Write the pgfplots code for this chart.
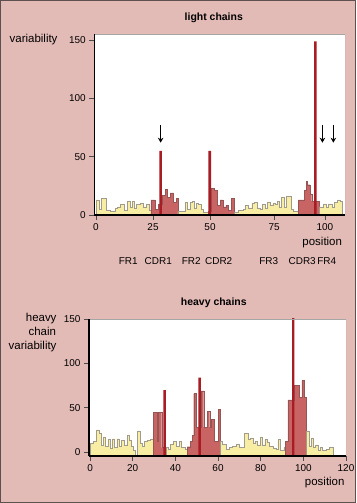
\documentclass[border=0pt]{standalone}
\usepackage{pgfplots}
\pgfplotsset{compat=1.18}
\usetikzlibrary{arrows.meta}
\usepackage{fontspec}
\setmainfont{Liberation Sans}
\definecolor{pinkbg}{RGB}{227,187,182}
\definecolor{framec}{RGB}{95,80,80}
\definecolor{yellowfill}{RGB}{247,238,164}
\definecolor{redfill}{RGB}{200,100,100}
\definecolor{barred}{RGB}{168,28,36}
\definecolor{outline}{RGB}{160,155,140}
\definecolor{redoutline}{RGB}{150,85,85}
\pgfplotsset{
  yelseg/.style={const plot, fill=yellowfill, draw=outline, line width=0.45bp},
  redseg/.style={const plot, fill=redfill, draw=redoutline, line width=0.35bp},
  barseg/.style={const plot, fill=barred, draw=none},
  arr/.style={black, line width=1.1bp, -{Stealth[length=5bp,width=5.5bp]}},
  common/.style={
    scale only axis, axis on top,
    axis x line*=bottom, axis y line*=left,
    axis line style={line width=1.3bp, black},
    tick align=outside, major tick length=5bp,
    tick style={black!70, line width=0.6bp},
    ticklabel style={font=\fontsize{10}{12}\selectfont},
    /pgf/number format/assume math mode=true,
    axis background/.style={fill=white},
    ytick={0,50,100,150},
    clip=true,
  },
}
\begin{document}
\begin{tikzpicture}[x=1bp,y=1bp]
\useasboundingbox (0,0) rectangle (356,503);
\fill[pinkbg] (0,0) rectangle (356,503);
\draw[framec, line width=1.2bp] (0.6,0.6) rectangle (355.4,502.4);

% ---------------- light chains ----------------
\node[font=\bfseries\fontsize{10.5}{12}\selectfont] at (213.8,484.7) {light chains};
\node[anchor=east, font=\fontsize{11.5}{13}\selectfont] at (61,463) {variability};
\node[anchor=east, font=\fontsize{11.5}{13}\selectfont] at (345.5,260.3) {position};
\begin{axis}[common,
  at={(94.3bp,288bp)}, anchor=south west,
  width=250.7bp, height=180.7bp,
  xmin=-0.75, xmax=109.2, ymin=0, ymax=155,
  xtick={0,25,50,78.1,100.4}, xticklabels={0,25,50,75,100},
]
\addplot[yelseg] coordinates {(0,0) (0,13) (1.3,5) (2.5,14) (4.4,4) (6.1,3) (8.3,6) (9.4,7) (10.5,9) (12.3,4) (13.5,12) (14.9,7) (15.9,12) (16.8,6) (17.8,9) (19.3,10) (20.8,7) (22.2,9) (23.2,4) (24.1,4) (24.1,0)} -- cycle;
\addplot[redseg] coordinates {(24.1,0) (24.1,13) (25.9,5) (27.3,9) (28.9,17) (30.3,22) (31.3,15) (32.5,19) (33.9,11) (35.1,14) (35.9,14) (35.9,0)} -- cycle;
\addplot[yelseg] coordinates {(35.9,0) (35.9,3) (39,11) (40.2,5) (41.2,11) (42.2,12) (43.1,6) (43.9,10) (44.9,9) (46.1,5) (47.1,2) (49.3,2) (49.3,0)} -- cycle;
\addplot[redseg] coordinates {(49.3,0) (49.3,3) (50.5,23) (51.9,21) (53.2,8) (54.4,13) (55.8,7) (57,8) (58,4) (59.3,14) (60.7,14) (60.7,0)} -- cycle;
\addplot[yelseg] coordinates {(60.7,0) (60.7,2) (62.5,4) (64.6,5) (65.6,8) (66.8,6) (68.3,10) (69.4,11) (70.5,6) (71.9,5) (73.1,9) (74.1,6) (75.1,11) (76.3,8) (77.5,10) (78.5,9) (79.5,12) (80.4,7) (81.4,15) (82.5,7) (83.6,16) (85.8,5) (86.5,3) (88.7,3) (88.7,0)} -- cycle;
\addplot[redseg] coordinates {(88.7,0) (88.7,13) (91.4,21) (92.1,29) (92.8,26) (93.9,18) (94.6,12) (97.9,12) (97.9,0)} -- cycle;
\addplot[yelseg] coordinates {(97.9,0) (97.9,7) (99.7,9) (100.9,7) (101.9,9) (103.4,7) (104.4,11) (105.8,13) (107,12) (107.8,12) (107.8,0)} -- cycle;
\addplot[barseg] coordinates {(27.8,0) (27.8,55) (28.9,55) (28.9,0)} -- cycle;
\addplot[barseg] coordinates {(49.3,0) (49.3,55) (50.5,55) (50.5,0)} -- cycle;
\addplot[barseg] coordinates {(95.7,0) (95.7,149) (96.8,149) (96.8,0)} -- cycle;
\addplot[arr] coordinates {(28.35,77) (28.35,62)};
\addplot[arr] coordinates {(99.3,77) (99.3,62)};
\addplot[arr] coordinates {(104.1,77) (104.1,62)};
\draw[black!35, line width=0.6bp] (rel axis cs:0,1) -- (rel axis cs:1,1) -- (rel axis cs:1,0);
\end{axis}

\begin{scope}[font=\fontsize{10}{12}\selectfont]
\node at (128.3,242) {FR1};
\node at (158.3,242) {CDR1};
\node at (191.3,242) {FR2};
\node at (218.7,242) {CDR2};
\node at (268.8,242) {FR3};
\node at (302.2,242) {CDR3};
\node at (326.7,242) {FR4};
\end{scope}

% ---------------- heavy chains ----------------
\node[font=\bfseries\fontsize{10.5}{12}\selectfont] at (213.8,200.3) {heavy chains};
\node[anchor=east, font=\fontsize{11.5}{13}\selectfont] at (60,184.7) {heavy};
\node[anchor=east, font=\fontsize{11.5}{13}\selectfont] at (59.5,171.3) {chain};
\node[anchor=east, font=\fontsize{11.5}{13}\selectfont] at (60,156.3) {variability};
\node[anchor=east, font=\fontsize{11.5}{13}\selectfont] at (348,20.7) {position};
\begin{axis}[common,
  at={(89bp,47bp)}, anchor=south west,
  width=257bp, height=137bp,
  xmin=-0.5, xmax=120, ymin=-4.5, ymax=150.3,
  xtick={0,20,...,120},
]
\addplot[yelseg] coordinates {(0,-4.5) (0,10) (1.6,12) (2.8,25) (4.2,21) (5.2,8) (6.3,17) (7.3,6) (8.3,14) (9.4,4) (10.5,15) (11.4,5) (12.5,15) (13.6,6) (14.8,13) (16.1,8) (17.2,19) (18.3,13) (19.2,6) (20.3,2) (21.4,-4.5) (22.3,24) (23.4,10) (24.5,6) (25.5,12) (26.6,13) (28.1,15) (29.7,15) (29.7,-4.5)} -- cycle;
\addplot[redseg] coordinates {(29.7,-4.5) (29.7,45) (31.3,12) (32,45) (33.6,5) (35.5,5) (35.5,-4.5)} -- cycle;
\addplot[yelseg] coordinates {(35.5,-4.5) (35.5,5) (36.6,3) (37.7,9) (38.9,12) (40.5,6) (41.7,12) (42.8,5) (44.4,3) (45.5,3) (45.5,-4.5)} -- cycle;
\addplot[redseg] coordinates {(45.5,-4.5) (45.5,6) (47,12) (48,19) (48.6,66) (49.8,28) (52,69) (53.3,28) (55,46) (56.1,28) (57,37) (58.3,12) (60,48) (61.2,48) (61.2,-4.5)} -- cycle;
\addplot[yelseg] coordinates {(61.2,-4.5) (61.2,12) (62,9) (64,3) (65.4,5) (66.7,6) (68.5,9) (70.1,5) (72.4,21) (74,14) (75.1,16) (76.3,10) (77.3,12) (78.6,8) (79.7,17) (80.8,8) (81.9,14) (83.1,11) (84.2,6) (85.7,4) (87.2,3) (88.1,14) (89.2,2) (90.8,5) (91.6,5) (91.6,-4.5)} -- cycle;
\addplot[redseg] coordinates {(91.6,-4.5) (91.6,12) (92.7,59) (95.8,75) (98.2,62) (99.3,81) (100.6,62) (101.5,62) (101.5,-4.5)} -- cycle;
\addplot[yelseg] coordinates {(101.5,-4.5) (101.5,24) (102.7,6) (103.8,16) (104.8,5) (105.7,8) (106.8,2) (107.9,5) (109,2) (110.6,3) (112.1,5) (114.2,5) (114.2,-4.5)} -- cycle;
\addplot[barseg] coordinates {(34.4,-4.5) (34.4,70) (35.5,70) (35.5,-4.5)} -- cycle;
\addplot[barseg] coordinates {(50.8,-4.5) (50.8,84) (52,84) (52,-4.5)} -- cycle;
\addplot[barseg] coordinates {(94.7,-4.5) (94.7,160) (95.8,160) (95.8,-4.5)} -- cycle;
\draw[black!35, line width=0.6bp] (rel axis cs:0,1) -- (rel axis cs:1,1) -- (rel axis cs:1,0);
\end{axis}
\end{tikzpicture}
\end{document}
